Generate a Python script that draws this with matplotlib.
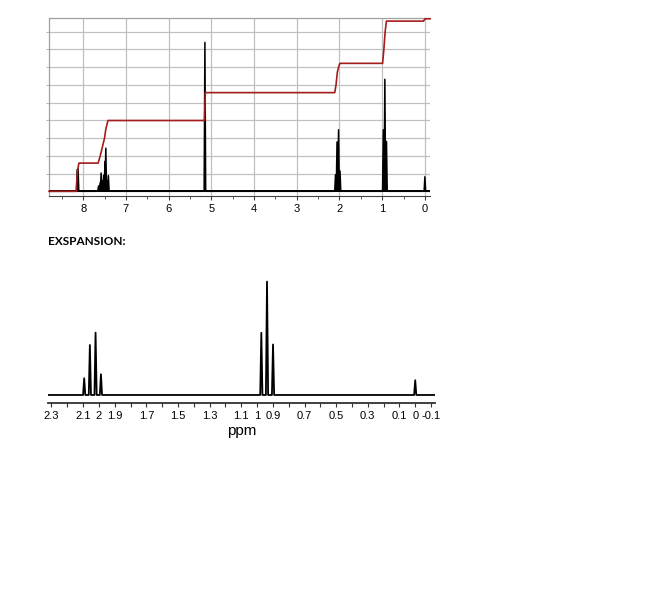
import numpy as np
import matplotlib
matplotlib.use("Agg")
import matplotlib.pyplot as plt

plt.rcParams['font.family'] = ['Liberation Sans', 'DejaVu Sans']

# --- peak list (ppm, height in grid units) ---
peaks_ppm = [8.14, 8.12, 7.64, 7.60, 7.58, 7.55, 7.52, 7.49, 7.47, 7.44, 7.41,
             5.15, 2.093, 2.057, 2.021, 1.987, 0.973, 0.937, 0.899, 0.0]
peaks_h = [1.22, 1.28, 0.30, 0.50, 1.03, 0.60, 0.90, 1.69, 2.43, 0.60, 0.88,
           8.39, 0.93, 2.78, 3.47, 1.15, 3.46, 6.31, 2.81, 0.82]

# integral trace (ppm, level)
integ_ppm = [8.80, 8.16, 8.15, 8.13, 8.10, 7.65, 7.60, 7.55, 7.50, 7.47, 7.42,
             5.16, 5.14, 2.11, 2.08, 2.05, 2.02, 1.99, 0.99, 0.96, 0.93, 0.90,
             0.03, 0.00, -0.12]
integ_lvl = [0.0, 0.0, 0.6, 1.2, 1.59, 1.59, 2.0, 2.5, 3.0, 3.5, 3.99,
             3.99, 5.56, 5.56, 6.0, 6.7, 7.0, 7.21, 7.21, 8.0, 9.0, 9.59,
             9.59, 9.72, 9.72]

top_ticks = [8, 7, 6, 5, 4, 3, 2, 1, 0]
exp_ticks = [2.3, 2.2, 2.1, 2.0, 1.9, 1.8, 1.7, 1.6, 1.5, 1.4, 1.3, 1.2, 1.1,
             1.0, 0.9, 0.8, 0.7, 0.6, 0.5, 0.4, 0.3, 0.2, 0.1, 0.0, -0.1]
exp_labels = ["2.3", "", "2.1", "2", "1.9", "", "1.7", "", "1.5", "", "1.3", "",
              "1.1", "1", "0.9", "", "0.7", "", "0.5", "", "0.3", "", "0.1", "0", "-0.1"]


def spectrum_xy(ppm, h, x_left, x_right, hw):
    order = np.argsort(ppm)[::-1]
    xs, ys = [x_left], [0.0]
    for i in order:
        xs += [ppm[i] + hw, ppm[i], ppm[i] - hw]
        ys += [0.0, h[i], 0.0]
    xs.append(x_right)
    ys.append(0.0)
    return xs, ys


fig = plt.figure(figsize=(6.64, 6.09), dpi=100)

# --- full spectrum ---
ax = fig.add_axes([0.0738, 0.678, 0.5738, 0.2923])
xl, xr = 8.8, -0.12
ax.set_xlim(xl, xr)
ax.set_ylim(-0.27, 9.76)
ax.set_xticks(top_ticks)
ax.set_xticks(np.arange(8.5, -0.1, -1.0), minor=True)
ax.set_yticks(range(1, 10))
ax.set_yticklabels([])
ax.grid(True, color='#c0c0c0', linewidth=0.9)
ax.set_axisbelow(True)

sx, sy = spectrum_xy(peaks_ppm, peaks_h, xl, xr, 0.018)
ax.plot(sx, sy, color='black', linewidth=1.1, zorder=3)
ax.axhline(0, color='black', linewidth=1.4, zorder=3)
ax.plot(integ_ppm, integ_lvl, color='#a51c1c', linewidth=1.2, zorder=4, clip_on=False)

for s in ['top', 'left']:
    ax.spines[s].set_color('#a0a0a0')
    ax.spines[s].set_linewidth(0.9)
ax.spines['right'].set_visible(False)
ax.spines['bottom'].set_color('#404040')
ax.tick_params(axis='x', labelsize=8, length=3, width=0.8, color='#404040', pad=3)
ax.tick_params(axis='x', which='minor', length=2, width=0.6, color='#404040')
ax.tick_params(axis='y', length=2, width=0.6, color='#a0a0a0')

fig.text(48 / 664, 1 - 241 / 609, "EXSPANSION:", fontsize=8.5, fontweight='bold',
         va='center', ha='left', family=['Lato', 'DejaVu Sans'])

# --- expansion 2.3 .. -0.1 ppm ---
ax2 = fig.add_axes([0.0727, 0.3383, 0.5824, 0.2102])
xl2, xr2 = 2.32, -0.125
ax2.set_xlim(xl2, xr2)
ax2.set_ylim(-0.445, 6.68)
sel = [i for i, p in enumerate(peaks_ppm) if p < xl2]
ex, ey = spectrum_xy([peaks_ppm[i] for i in sel], [peaks_h[i] for i in sel],
                     xl2, xr2, 0.007)
ax2.plot(ex, ey, color='black', linewidth=1.3)
ax2.set_xticks(exp_ticks)
ax2.set_xticklabels(exp_labels)
ax2.set_yticks([])
for s in ['top', 'left', 'right']:
    ax2.spines[s].set_visible(False)
ax2.spines['bottom'].set_color('#303030')
ax2.spines['bottom'].set_linewidth(1.3)
ax2.tick_params(axis='x', labelsize=8, length=3, width=0.8, color='#303030', pad=3)
ax2.set_xlabel("ppm", fontsize=11, labelpad=2)

fig.savefig("out.png", dpi=100)
